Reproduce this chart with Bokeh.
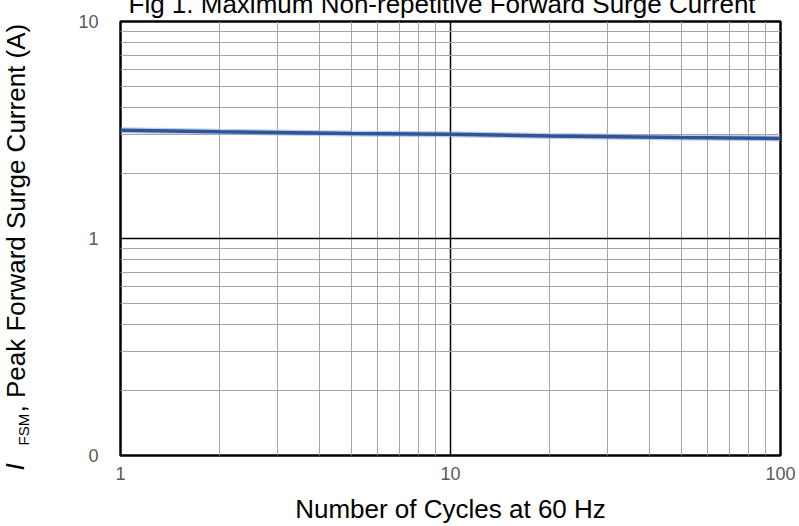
import math
from bokeh.plotting import figure
from bokeh.models import FixedTicker, Range1d, Title, LogAxis
from bokeh.embed import file_html
from bokeh.resources import INLINE

# ---- data ----
cycles = [1, 2, 5, 10, 20, 50, 100]
ifsm = [3.15, 3.10, 3.05, 3.02, 2.97, 2.92, 2.89]

x_ticks = [1, 10, 100]
x_minor = [2, 3, 4, 5, 6, 7, 8, 9, 20, 30, 40, 50, 60, 70, 80, 90]
y_ticks = [0.1, 1, 10]
y_minor = [0.2, 0.3, 0.4, 0.5, 0.6, 0.7, 0.8, 0.9, 2, 3, 4, 5, 6, 7, 8, 9]
x_tick_labels = {1: "1", 10: "10", 100: "100"}
y_tick_labels = {0.1: "0", 1: "1", 10: "10"}

title_text = "Fig 1. Maximum Non-repetitive Forward Surge Current"
x_label = "Number of Cycles at 60 Hz"
y_label_sym = "I"
y_label_sub = "FSM"
y_label_rest = ", Peak Forward Surge Current (A)"

# ---- layout ----
W, H = 799, 526
TOP_HIDDEN = 16          # canvas part that lies above the page top
FL, FR, FT, FB = 120, 780, 20, 455
FONT = "Liberation Sans"

p = figure(width=W, height=H + TOP_HIDDEN, x_axis_type="log", y_axis_type="log",
           x_range=Range1d(1, 100), y_range=Range1d(0.1, 10),
           output_backend="svg", toolbar_location=None,
           min_border_left=FL, min_border_right=W - FR,
           min_border_top=FT + TOP_HIDDEN, min_border_bottom=H - FB)
p.margin = (-TOP_HIDDEN, 0, 0, 0)
p.background_fill_color = "white"
p.border_fill_color = "white"
p.outline_line_color = "black"
p.outline_line_width = 2.5

xt = FixedTicker(ticks=x_ticks, minor_ticks=x_minor)
yt = FixedTicker(ticks=y_ticks, minor_ticks=y_minor)
p.xaxis.ticker = xt
p.yaxis.ticker = yt
p.xgrid.ticker = xt
p.ygrid.ticker = yt

for g in (p.xgrid, p.ygrid):
    g.grid_line_color = "black"
    g.grid_line_width = 1.5
    g.minor_grid_line_color = "#a6a6a6"
    g.minor_grid_line_width = 1

for ax in (p.xaxis, p.yaxis):
    ax.axis_line_color = None
    ax.major_tick_line_color = None
    ax.minor_tick_line_color = None
    ax.major_tick_out = 0
    ax.major_tick_in = 0
    ax.minor_tick_out = 0
    ax.minor_tick_in = 0
    ax.major_label_text_font = FONT
    ax.major_label_text_font_size = "18px"
    ax.major_label_text_color = "#595959"

p.xaxis.major_label_overrides = x_tick_labels
p.yaxis.major_label_overrides = y_tick_labels
p.xaxis.major_label_standoff = 11
p.yaxis.major_label_standoff = 22

p.xaxis.axis_label = x_label
p.xaxis.axis_label_text_font = FONT
p.xaxis.axis_label_text_font_size = "26px"
p.xaxis.axis_label_text_font_style = "normal"
p.xaxis.axis_label_text_color = "black"
p.xaxis.axis_label_standoff = 11

p.line(cycles, ifsm, line_color="#8faadc", line_width=6, line_alpha=0.6)
p.line(cycles, ifsm, line_color="#2f5597", line_width=3.5)

# title, partly above the page edge as in the reference
p.add_layout(Title(text=title_text, text_font=FONT, text_font_size="26px",
                   text_font_style="normal", text_color="black",
                   align="left", offset=8, vertical_align="bottom",
                   standoff=5), "above")

# empty spacer axis between the tick labels and the y axis title
spacer = LogAxis(ticker=FixedTicker(ticks=[1], minor_ticks=[]),
                 axis_line_color=None, major_tick_line_color=None,
                 minor_tick_line_color=None, major_tick_in=0,
                 major_tick_out=44, minor_tick_out=0, minor_tick_in=0,
                 major_label_standoff=0, major_label_text_color=None,
                 major_label_text_font_size="0px")
p.add_layout(spacer, "left")

# y axis title: italic I, subscript FSM, rest
common = dict(text_font=FONT, text_color="black", align="left",
              vertical_align="top")
p.add_layout(Title(text=y_label_sub, text_font_size="15px",
                   text_font_style="normal", offset=10, standoff=-5,
                   **common), "left")
p.add_layout(Title(text=y_label_rest, text_font_size="26px",
                   text_font_style="normal", offset=43, standoff=-31,
                   **common), "left")
p.add_layout(Title(text=y_label_sym, text_font_size="26px",
                   text_font_style="italic", offset=-15, standoff=-31,
                   **common), "left")

open("out.html", "w").write(file_html(p, INLINE))
